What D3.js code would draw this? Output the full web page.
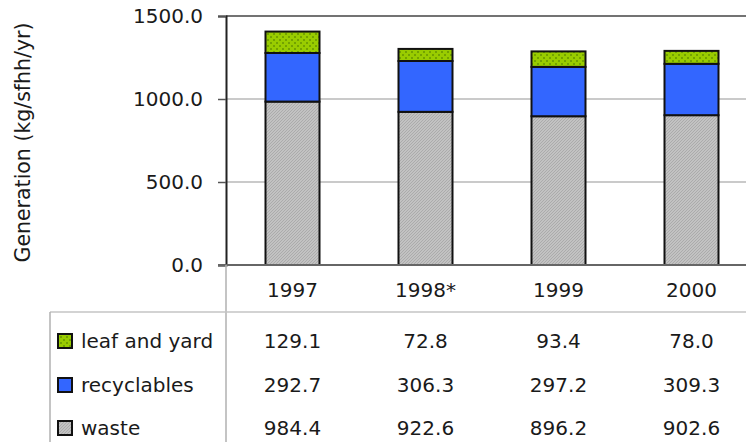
<!DOCTYPE html>
<html>
<head>
<meta charset="utf-8">
<script src="https://cdn.jsdelivr.net/npm/d3@7"></script>
<style>
  html, body { margin: 0; padding: 0; background: #fff; }
  svg { display: block; font-family: "DejaVu Sans", Verdana, sans-serif; }
</style>
</head>
<body>
<svg id="chart" width="746" height="442"></svg>
<script>
// Household waste generation per single-family household, by year
const years = ["1997", "1998*", "1999", "2000"];
const seriesNames = ["leaf and yard", "recyclables", "waste"];
const leafAndYard = [129.1, 72.8, 93.4, 78.0];
const recyclables = [292.7, 306.3, 297.2, 309.3];
const waste = [984.4, 922.6, 896.2, 902.6];
const yTicks = [0, 500, 1000, 1500];
const yLabel = "Generation (kg/sfhh/yr)";

const rows = years.map((y, i) => ({
  year: y, waste: waste[i], recyclables: recyclables[i], leaf: leafAndYard[i]
}));
const stack = d3.stack().keys(["waste", "recyclables", "leaf"])(rows);

const svg = d3.select("#chart");
const W = 746, H = 442;
const plotLeft = 226, plotTop = 16, plotBottom = 265;
const bandW = 133;
const fontSize = 20;
const textColor = "#1a1a1a";

const x = d3.scaleBand().domain(years)
  .range([plotLeft, plotLeft + bandW * years.length]).paddingInner(0).paddingOuter(0);
const y = d3.scaleLinear().domain([0, 1500]).range([plotBottom, plotTop]);

// Fill patterns
const defs = svg.append("defs");
const pw = defs.append("pattern").attr("id", "pat-waste")
  .attr("patternUnits", "userSpaceOnUse").attr("width", 3).attr("height", 3);
pw.append("rect").attr("width", 3).attr("height", 3).attr("fill", "#c2c2c2");
pw.append("path").attr("d", "M0,3 L3,0")
  .attr("stroke", "#a4a4a4").attr("stroke-width", 0.8);

const pl = defs.append("pattern").attr("id", "pat-leaf")
  .attr("patternUnits", "userSpaceOnUse").attr("width", 6).attr("height", 6);
pl.append("rect").attr("width", 6).attr("height", 6).attr("fill", "#99cc00");
pl.append("rect").attr("x", 0).attr("y", 0).attr("width", 2).attr("height", 2).attr("fill", "#73a300");
pl.append("rect").attr("x", 3).attr("y", 3).attr("width", 2).attr("height", 2).attr("fill", "#73a300");

const fills = { waste: "url(#pat-waste)", recyclables: "#3366ff", leaf: "url(#pat-leaf)" };

// Gridlines
svg.append("g").selectAll("line").data(yTicks.filter(t => t > 0 && t < 1500)).join("line")
  .attr("x1", plotLeft).attr("x2", W)
  .attr("y1", d => y(d)).attr("y2", d => y(d))
  .attr("stroke", "#b8b8b8").attr("stroke-width", 1.5);

// Plot top border
svg.append("line").attr("x1", plotLeft).attr("x2", W)
  .attr("y1", y(1500)).attr("y2", y(1500))
  .attr("stroke", "#444").attr("stroke-width", 1.5);

// Y axis
const yAxis = svg.append("g").attr("transform", `translate(${plotLeft},0)`)
  .call(d3.axisLeft(y).tickValues(yTicks).tickFormat(d3.format(".1f")).tickSize(8).tickPadding(15));
yAxis.select(".domain").attr("stroke", "#222").attr("stroke-width", 2);
yAxis.selectAll(".tick line").attr("stroke", "#555").attr("stroke-width", 1.5);
yAxis.selectAll(".tick text").attr("font-size", fontSize).attr("fill", textColor)
  .attr("font-family", "DejaVu Sans, Verdana, sans-serif");

// Stacked bars
const barW = 54;
svg.append("g").selectAll("g").data(stack).join("g")
  .attr("fill", d => fills[d.key])
  .selectAll("rect").data(d => d).join("rect")
  .attr("x", d => x(d.data.year) + (bandW - barW) / 2)
  .attr("width", barW)
  .attr("y", d => y(d[1]))
  .attr("height", d => y(d[0]) - y(d[1]))
  .attr("stroke", "#111").attr("stroke-width", 2);

// Baseline
svg.append("line").attr("x1", plotLeft - 8).attr("x2", W)
  .attr("y1", plotBottom).attr("y2", plotBottom)
  .attr("stroke", "#666").attr("stroke-width", 2);

// Data table
const tableTop = 312;
svg.append("line").attr("x1", plotLeft).attr("x2", plotLeft)
  .attr("y1", plotBottom).attr("y2", H).attr("stroke", "#b0b0b0").attr("stroke-width", 1.5);
svg.append("line").attr("x1", 50).attr("x2", W)
  .attr("y1", tableTop).attr("y2", tableTop).attr("stroke", "#c4c4c4").attr("stroke-width", 1.5);
svg.append("line").attr("x1", 50).attr("x2", 50)
  .attr("y1", tableTop).attr("y2", H).attr("stroke", "#b0b0b0").attr("stroke-width", 1.5);

// Year headers
svg.append("g").selectAll("text").data(years).join("text")
  .attr("x", d => x(d) + bandW / 2).attr("y", 290)
  .attr("text-anchor", "middle").attr("dominant-baseline", "central")
  .attr("font-size", fontSize).attr("fill", textColor).text(d => d);

// Rows: series label, swatch and values
const tableRows = [
  { name: seriesNames[0], key: "leaf", values: leafAndYard, cy: 341 },
  { name: seriesNames[1], key: "recyclables", values: recyclables, cy: 385 },
  { name: seriesNames[2], key: "waste", values: waste, cy: 428 }
];
const fmt = d3.format(".1f");
const rowG = svg.append("g").selectAll("g").data(tableRows).join("g");
rowG.append("rect")
  .attr("x", 58).attr("y", d => d.cy - 7).attr("width", 14).attr("height", 14)
  .attr("fill", d => fills[d.key]).attr("stroke", "#111").attr("stroke-width", 2);
rowG.append("text")
  .attr("x", 81).attr("y", d => d.cy)
  .attr("dominant-baseline", "central")
  .attr("font-size", fontSize).attr("fill", textColor).text(d => d.name);
rowG.selectAll("text.val").data(d => d.values.map((v, i) => ({ v, i, cy: d.cy }))).join("text")
  .attr("class", "val")
  .attr("x", d => x(years[d.i]) + bandW / 2).attr("y", d => d.cy)
  .attr("text-anchor", "middle").attr("dominant-baseline", "central")
  .attr("font-size", fontSize).attr("fill", textColor).text(d => fmt(d.v));

// Y axis title
svg.append("text")
  .attr("transform", `translate(23,${(plotTop + plotBottom) / 2 + 2}) rotate(-90)`)
  .attr("text-anchor", "middle").attr("dominant-baseline", "central")
  .attr("font-size", 20.5).attr("fill", textColor).text(yLabel);
</script>
</body>
</html>
